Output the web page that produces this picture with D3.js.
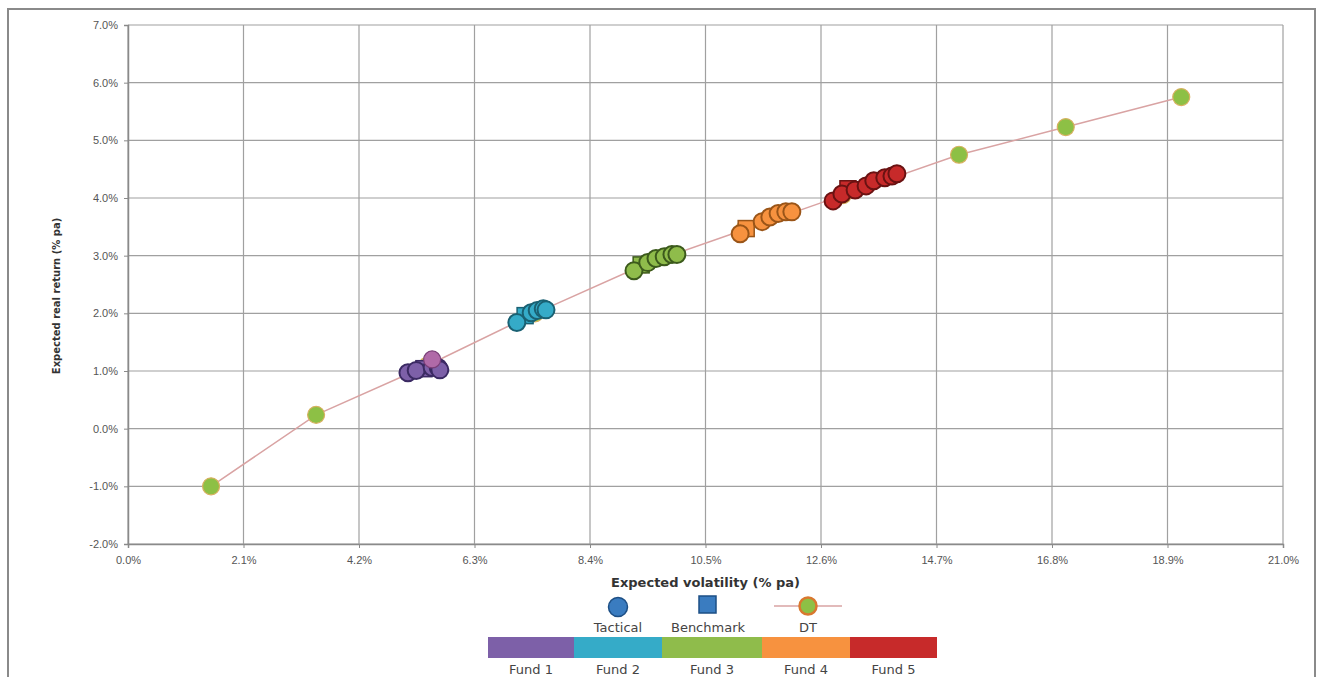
<!DOCTYPE html>
<html>
<head>
<meta charset="utf-8">
<script src="https://cdn.jsdelivr.net/npm/d3@7"></script>
<style>
  body { margin: 0; background: #fff; }
  svg { display: block; font-family: "DejaVu Sans", Verdana, sans-serif; }
</style>
</head>
<body>
<div id="chart"></div>
<script>
// tick values (% pa)
const xTicks = [0, 2.1, 4.2, 6.3, 8.4, 10.5, 12.6, 14.7, 16.8, 18.9, 21.0];
const yTicks = [-2, -1, 0, 1, 2, 3, 4, 5, 6, 7];

const fundNames = ["Fund 1", "Fund 2", "Fund 3", "Fund 4", "Fund 5"];

// tactical points per fund: [volatility, real return]
const tactical1 = [[5.09, 0.97], [5.24, 1.01], [5.53, 1.06], [5.64, 1.06], [5.67, 1.02]];
const tactical2 = [[7.07, 1.84], [7.33, 2.01], [7.44, 2.05], [7.55, 2.08], [7.60, 2.06]];
const tactical3 = [[9.20, 2.74], [9.45, 2.88], [9.60, 2.95], [9.75, 2.98], [9.89, 3.02], [9.98, 3.02]];
const tactical4 = [[11.13, 3.38], [11.53, 3.59], [11.67, 3.67], [11.82, 3.73], [11.96, 3.76], [12.07, 3.76]];
const tactical5 = [[12.82, 3.95], [12.98, 4.07], [13.22, 4.14], [13.42, 4.21], [13.56, 4.30], [13.76, 4.35], [13.89, 4.38], [13.98, 4.42]];

// benchmark point per fund
const benchmark = [[5.38, 1.04], [7.22, 1.96], [9.33, 2.84], [11.24, 3.47], [13.09, 4.16]];

// lighter fund 1 point
const fund1Extra = [[5.53, 1.20]];

// DT curve
const dtPoints = [[1.51, -1.0], [3.42, 0.24], [5.45, 1.10], [7.40, 2.00], [9.40, 2.85],
                  [11.20, 3.45], [13.00, 4.05], [15.11, 4.75], [17.05, 5.23], [19.15, 5.75]];

const fundFill = ["#7d60a8", "#35abc8", "#8fbc4b", "#f7923f", "#c72a2a"];
const fundStroke = ["#3b2a63", "#1a6173", "#3c5a1c", "#9a5518", "#6a1212"];

const W = 1321, H = 677;
const svg = d3.select("#chart").append("svg").attr("width", W).attr("height", H);

// outer frame
svg.append("rect")
    .attr("x", 8).attr("y", 9).attr("width", 1307).attr("height", 700)
    .attr("fill", "none").attr("stroke", "#8a8a8a").attr("stroke-width", 2);

const x = d3.scaleLinear().domain([0, 21]).range([128, 1283]);
const y = d3.scaleLinear().domain([-2, 7]).range([544, 25]);

// grid
svg.append("g").selectAll("line").data(xTicks).enter().append("line")
    .attr("x1", d => x(d)).attr("x2", d => x(d))
    .attr("y1", y(-2)).attr("y2", y(7))
    .attr("stroke", "#a0a0a0").attr("stroke-width", 1.2);
svg.append("g").selectAll("line").data(yTicks).enter().append("line")
    .attr("x1", x(0)).attr("x2", x(21))
    .attr("y1", d => y(d)).attr("y2", d => y(d))
    .attr("stroke", "#a0a0a0").attr("stroke-width", 1.2);

// axes
const xAxis = svg.append("g")
    .attr("transform", `translate(0,${y(-2)})`)
    .call(d3.axisBottom(x).tickValues(xTicks).tickSize(4).tickFormat(d => d.toFixed(1) + "%"));
const yAxis = svg.append("g")
    .attr("transform", `translate(${x(0)},0)`)
    .call(d3.axisLeft(y).tickValues(yTicks).tickSize(4).tickFormat(d => d.toFixed(1) + "%"));
[xAxis, yAxis].forEach(a => {
    a.select(".domain").attr("stroke", "#8a8a8a").attr("stroke-width", 1.5);
    a.selectAll(".tick line").attr("stroke", "#8a8a8a");
    a.selectAll("text").attr("fill", "#555").style("font-size", "11px");
});
yAxis.selectAll("text").attr("x", -10);
xAxis.selectAll("text").attr("y", 12);

// axis titles
svg.append("text")
    .attr("x", x(10.5)).attr("y", 587)
    .attr("text-anchor", "middle")
    .style("font-size", "13px").style("font-weight", "bold").attr("fill", "#333")
    .text("Expected volatility (% pa)");
svg.append("text")
    .attr("transform", `translate(60,296) rotate(-90)`)
    .attr("text-anchor", "middle")
    .style("font-size", "10px").style("font-weight", "bold").attr("fill", "#333")
    .text("Expected real return (% pa)");

// DT line and markers
const line = d3.line().x(d => x(d[0])).y(d => y(d[1]));
svg.append("path").datum(dtPoints)
    .attr("d", line).attr("fill", "none")
    .attr("stroke", "#d9a3a3").attr("stroke-width", 1.5);
svg.append("g").selectAll("circle").data(dtPoints).enter().append("circle")
    .attr("cx", d => x(d[0])).attr("cy", d => y(d[1])).attr("r", 8.5)
    .attr("fill", "#8dc045").attr("stroke", "#d8b060").attr("stroke-width", 1.2);

// funds
const tacticals = [tactical1, tactical2, tactical3, tactical4, tactical5];
tacticals.forEach((pts, i) => {
    const g = svg.append("g");
    g.selectAll("rect").data([benchmark[i]]).enter().append("rect")
        .attr("x", d => x(d[0]) - 8).attr("y", d => y(d[1]) - 8)
        .attr("width", 16).attr("height", 16)
        .attr("fill", fundFill[i]).attr("stroke", fundStroke[i]).attr("stroke-width", 1.5);
    g.selectAll("circle").data(pts).enter().append("circle")
        .attr("cx", d => x(d[0])).attr("cy", d => y(d[1])).attr("r", 8.5)
        .attr("fill", fundFill[i]).attr("stroke", fundStroke[i]).attr("stroke-width", 2);
});
svg.append("g").selectAll("circle").data(fund1Extra).enter().append("circle")
    .attr("cx", d => x(d[0])).attr("cy", d => y(d[1])).attr("r", 8.5)
    .attr("fill", "#b06aa8").attr("stroke", "#7a3f78").attr("stroke-width", 1.2);

// legend: marker types
const lg = svg.append("g").style("font-size", "13px").attr("fill", "#444");
lg.append("circle").attr("cx", 618).attr("cy", 607).attr("r", 9.5)
    .attr("fill", "#3a7cc0").attr("stroke", "#1d4f85").attr("stroke-width", 1.5);
lg.append("text").attr("x", 618).attr("y", 632).attr("text-anchor", "middle").text("Tactical");
lg.append("rect").attr("x", 699).attr("y", 596).attr("width", 17).attr("height", 17)
    .attr("fill", "#3a7cc0").attr("stroke", "#1d4f85").attr("stroke-width", 1.5);
lg.append("text").attr("x", 708).attr("y", 632).attr("text-anchor", "middle").text("Benchmark");
lg.append("line").attr("x1", 774).attr("x2", 842).attr("y1", 606).attr("y2", 606)
    .attr("stroke", "#d9a3a3").attr("stroke-width", 1.5);
lg.append("circle").attr("cx", 808).attr("cy", 606).attr("r", 8.5)
    .attr("fill", "#8dc045").attr("stroke", "#d9782e").attr("stroke-width", 2.5);
lg.append("text").attr("x", 808).attr("y", 632).attr("text-anchor", "middle").text("DT");

// legend: fund colour bar
const barEdges = [488, 574, 662, 762, 850, 937];
const band = d3.scaleOrdinal().domain(fundNames).range(barEdges.slice(0, 5));
fundNames.forEach((f, i) => {
    lg.append("rect")
        .attr("x", band(f)).attr("y", 637)
        .attr("width", barEdges[i + 1] - barEdges[i]).attr("height", 21)
        .attr("fill", fundFill[i]);
    lg.append("text")
        .attr("x", (barEdges[i] + barEdges[i + 1]) / 2).attr("y", 674)
        .attr("text-anchor", "middle").text(f);
});
</script>
</body>
</html>
